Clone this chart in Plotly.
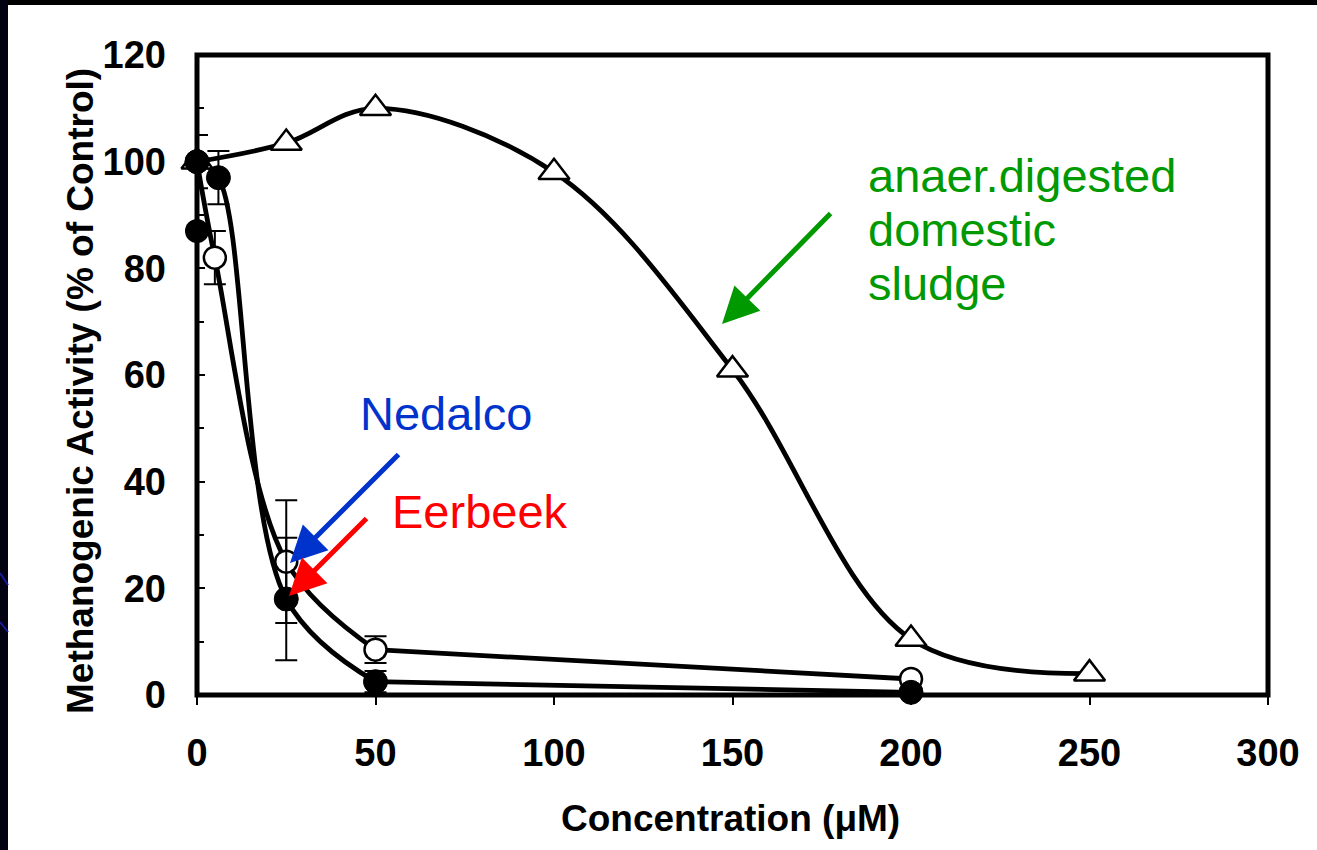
import plotly.graph_objects as go

# Concentration (µM) and methanogenic activity (% of control)
eerbeek_x = [0, 6, 25, 50, 200]
eerbeek_y = [100, 97, 18, 2.5, 0.5]
eerbeek_err = [5, 5, 11.5, 2, 0]

nedalco_x = [0, 5, 25, 50, 200]
nedalco_y = [100, 82, 25, 8.5, 3]
nedalco_err = [0, 5, 11.5, 2.5, 0]

replicate_x = [0]
replicate_y = [87]

sludge_x = [0, 25, 50, 100, 150, 200, 250]
sludge_y = [100, 103.5, 110, 98, 61, 10.5, 4]

x_ticks = [0, 50, 100, 150, 200, 250, 300]
y_ticks = [0, 20, 40, 60, 80, 100, 120]

FONT = "Liberation Sans, Arial, sans-serif"
W, H = 1317, 850
L, R, T, B = 197, 49, 55, 155
PW, PH = W - L - R, H - T - B


def px_x(p):
    return (p - L) / PW


def px_y(p):
    return (H - B - p) / PH


fig = go.Figure()

LW = 4.8


def curve(xs, ys, smoothing=1.0):
    return go.Scatter(x=xs, y=ys, mode="lines",
                      line=dict(color="black", width=LW, shape="spline",
                                smoothing=smoothing),
                      hoverinfo="skip", showlegend=False)


# fitted curves: steep part smoothed, long low tail drawn on its own
fig.add_trace(curve(sludge_x, sludge_y))
fig.add_trace(curve(nedalco_x[:4], nedalco_y[:4]))
fig.add_trace(curve(nedalco_x[3:], nedalco_y[3:]))
fig.add_trace(curve(eerbeek_x[:4], eerbeek_y[:4]))
fig.add_trace(curve(eerbeek_x[3:], eerbeek_y[3:]))

fig.add_trace(go.Scatter(
    x=sludge_x, y=sludge_y, mode="markers",
    marker=dict(symbol="triangle-up", size=27, color="white",
                line=dict(color="black", width=2.5)),
    cliponaxis=False, showlegend=False))

fig.add_trace(go.Scatter(
    x=nedalco_x, y=nedalco_y, mode="markers",
    marker=dict(symbol="circle", size=22, color="white",
                line=dict(color="black", width=2.5)),
    error_y=dict(type="data", array=nedalco_err, color="black",
                 thickness=2, width=11),
    cliponaxis=False, showlegend=False))

fig.add_trace(go.Scatter(
    x=eerbeek_x, y=eerbeek_y, mode="markers",
    marker=dict(symbol="circle", size=24, color="black",
                line=dict(color="black", width=1)),
    error_y=dict(type="data", array=eerbeek_err, color="black",
                 thickness=2, width=11),
    cliponaxis=False, showlegend=False))

fig.add_trace(go.Scatter(
    x=replicate_x, y=replicate_y, mode="markers",
    marker=dict(symbol="circle", size=24, color="black"),
    cliponaxis=False, showlegend=False))

tick_font = dict(family=FONT, size=38, color="black", weight="bold")

fig.update_xaxes(
    range=[0, 300], tickvals=x_ticks, ticktext=[str(v) for v in x_ticks],
    ticks="outside", ticklen=9, tickwidth=1.5, tickcolor="black",
    showline=False, showgrid=False, zeroline=False,
    tickfont=tick_font, ticklabelstandoff=15)

fig.update_yaxes(
    range=[0, 120], tickvals=y_ticks, ticktext=[str(v) for v in y_ticks],
    ticks="inside", ticklen=8, tickwidth=1.5, tickcolor="black",
    minor=dict(dtick=10, tick0=0, ticks="inside", ticklen=7,
               tickwidth=1.5, tickcolor="black"),
    showline=False, showgrid=False, zeroline=False,
    tickfont=tick_font, ticklabelstandoff=30)

shapes = [
    # plot frame
    dict(type="rect", xref="paper", yref="paper", x0=0, x1=1, y0=0, y1=1,
         line=dict(color="black", width=5), layer="above"),
    # dark slide edges
    dict(type="rect", xref="paper", yref="paper",
         x0=px_x(-2), x1=px_x(W + 2), y0=px_y(5), y1=px_y(-2),
         fillcolor="black", line=dict(width=0), layer="above"),
    dict(type="rect", xref="paper", yref="paper",
         x0=px_x(-2), x1=px_x(8), y0=px_y(H + 2), y1=px_y(-2),
         fillcolor="#020212", line=dict(width=0), layer="above"),
]
for y0, y1 in [(585, 573), (632, 622)]:
    shapes.append(dict(type="line", xref="paper", yref="paper",
                       x0=px_x(0), x1=px_x(8), y0=px_y(y1), y1=px_y(y0),
                       line=dict(color="#1a1aa0", width=2), layer="above"))

title_font = dict(family=FONT, size=37, color="black", weight="bold")
label_font = dict(family=FONT, size=47)

annotations = [
    dict(text="Concentration (μM)", xref="paper", yref="paper",
         x=px_x(730), y=px_y(818), xanchor="center", yanchor="middle",
         showarrow=False, font=title_font),
    dict(text="Methanogenic Activity (% of Control)", xref="paper", yref="paper",
         x=px_x(80), y=px_y(391), xanchor="center", yanchor="middle",
         textangle=-90, showarrow=False, font=title_font),
    dict(text="Nedalco", xref="paper", yref="paper", x=px_x(358), y=px_y(413),
         xanchor="left", yanchor="middle", showarrow=False,
         font=dict(label_font, color="#0033cc")),
    dict(text="Eerbeek", xref="paper", yref="paper", x=px_x(390), y=px_y(511),
         xanchor="left", yanchor="middle", showarrow=False,
         font=dict(label_font, color="#ff0000")),
]
for txt, yc in [("anaer.digested", 175), ("domestic", 229), ("sludge", 283)]:
    annotations.append(dict(text=txt, xref="paper", yref="paper",
                            x=px_x(866), y=px_y(yc), xanchor="left",
                            yanchor="middle", showarrow=False,
                            font=dict(label_font, color="#009900")))

# arrows pointing at the curves (tail -> tip in pixel coordinates)
for (tx, ty), (hx, hy), col in [
    ((832, 212), (722, 324), "#009900"),
    ((400, 453), (290, 563), "#0033cc"),
    ((368, 517), (289, 596), "#ff0000"),
]:
    annotations.append(dict(
        text="", xref="paper", yref="paper", axref="pixel", ayref="pixel",
        x=px_x(hx), y=px_y(hy), ax=tx - hx, ay=ty - hy,
        showarrow=True, arrowhead=2, arrowsize=1.45, arrowwidth=5,
        arrowcolor=col, standoff=0))

fig.update_layout(
    width=W, height=H, autosize=False,
    margin=dict(l=L, r=R, t=T, b=B, pad=0),
    paper_bgcolor="white", plot_bgcolor="white",
    font=dict(family=FONT, color="black"),
    shapes=shapes, annotations=annotations, showlegend=False)

fig.write_html("out.html", config={"displayModeBar": False})
